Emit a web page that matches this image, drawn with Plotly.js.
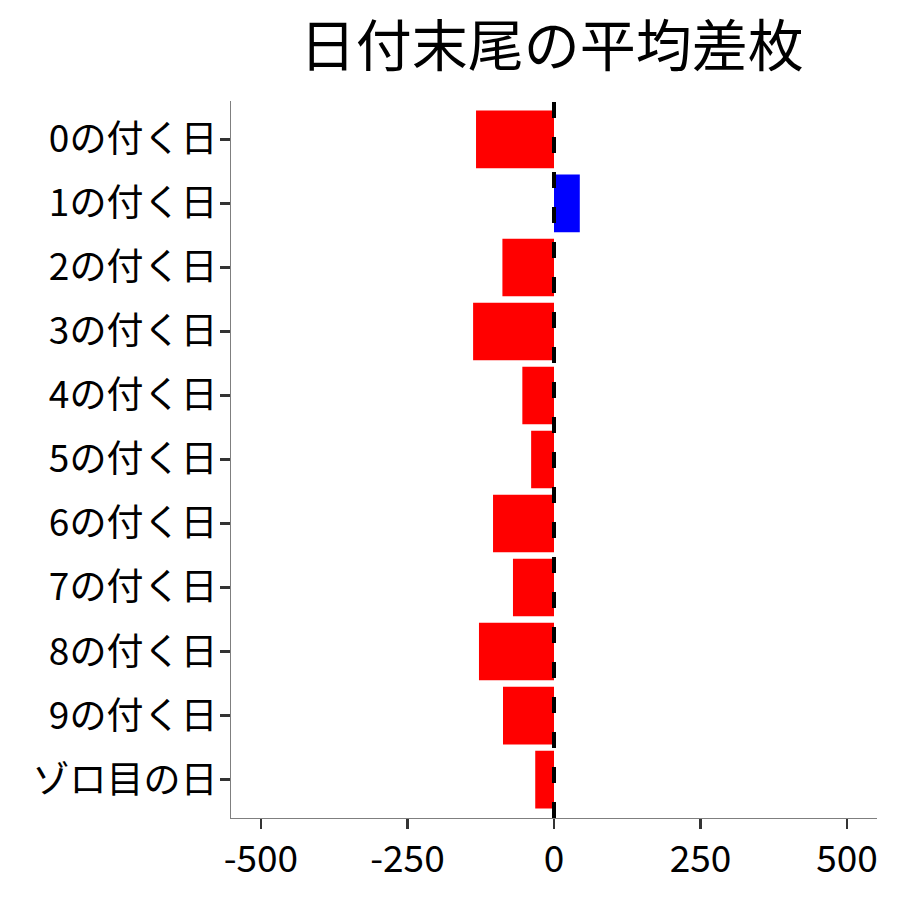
<!DOCTYPE html>
<html>
<head>
<meta charset="utf-8">
<script src="https://cdn.plot.ly/plotly-3.0.1.min.js"></script>
<style>
  html, body { margin: 0; padding: 0; background: #fff; }
  #plot-container { width: 900px; height: 900px; }
</style>
</head>
<body>
<div id="plot-container"></div>
<script>
// 日付末尾ごとの平均差枚
const categories = ['0の付く日', '1の付く日', '2の付く日', '3の付く日', '4の付く日',
                    '5の付く日', '6の付く日', '7の付く日', '8の付く日', '9の付く日', 'ゾロ目の日'];
const avgDiff = [-133, 44, -88, -138, -54, -39, -104, -70, -128, -87, -32];
const xTicks = [-500, -250, 0, 250, 500];

const FONT = '"Noto Sans CJK JP", "Noto Sans", sans-serif';

const barColors = avgDiff.map(v => v >= 0 ? '#0000FF' : '#FF0000');

const trace = {
    type: 'bar',
    orientation: 'h',
    x: avgDiff,
    y: categories,
    marker: { color: barColors, line: { width: 0 } },
    hoverinfo: 'x+y'
};

const layout = {
    width: 900,
    height: 900,
    showlegend: false,
    paper_bgcolor: '#fff',
    plot_bgcolor: '#fff',
    margin: { l: 231, r: 23, t: 101, b: 82 },
    bargap: 0.1,
    font: { family: FONT, color: '#000' },
    title: {
        text: '日付末尾の平均差枚',
        font: { family: FONT, size: 56, color: '#000' },
        x: 0.613, xanchor: 'center',
        y: 0.948, yanchor: 'middle'
    },
    xaxis: {
        range: [-551, 551],
        tickvals: xTicks,
        ticktext: xTicks.map(String),
        showgrid: false,
        zeroline: false,
        showline: true,
        linecolor: '#7f7f7f',
        linewidth: 1.2,
        ticks: 'outside',
        ticklen: 10,
        tickwidth: 2.5,
        tickcolor: '#333',
        ticklabelstandoff: -2,
        tickfont: { family: FONT, size: 37, color: '#000' }
    },
    yaxis: {
        type: 'category',
        categoryorder: 'array',
        categoryarray: categories,
        range: [10.6, -0.6],
        showgrid: false,
        zeroline: false,
        showline: true,
        linecolor: '#7f7f7f',
        linewidth: 1.2,
        ticks: 'outside',
        ticklen: 10,
        tickwidth: 2.5,
        tickcolor: '#333',
        ticklabelstandoff: -5,
        tickfont: { family: FONT, size: 37, color: '#000' }
    },
    shapes: [{
        type: 'line',
        xref: 'x', yref: 'paper',
        x0: 0, x1: 0, y0: 0, y1: 1,
        line: { color: '#000', width: 4, dash: '16px,19px' }
    }]
};

Plotly.newPlot('plot-container', [trace], layout, { displayModeBar: false, staticPlot: true });
</script>
</body>
</html>
